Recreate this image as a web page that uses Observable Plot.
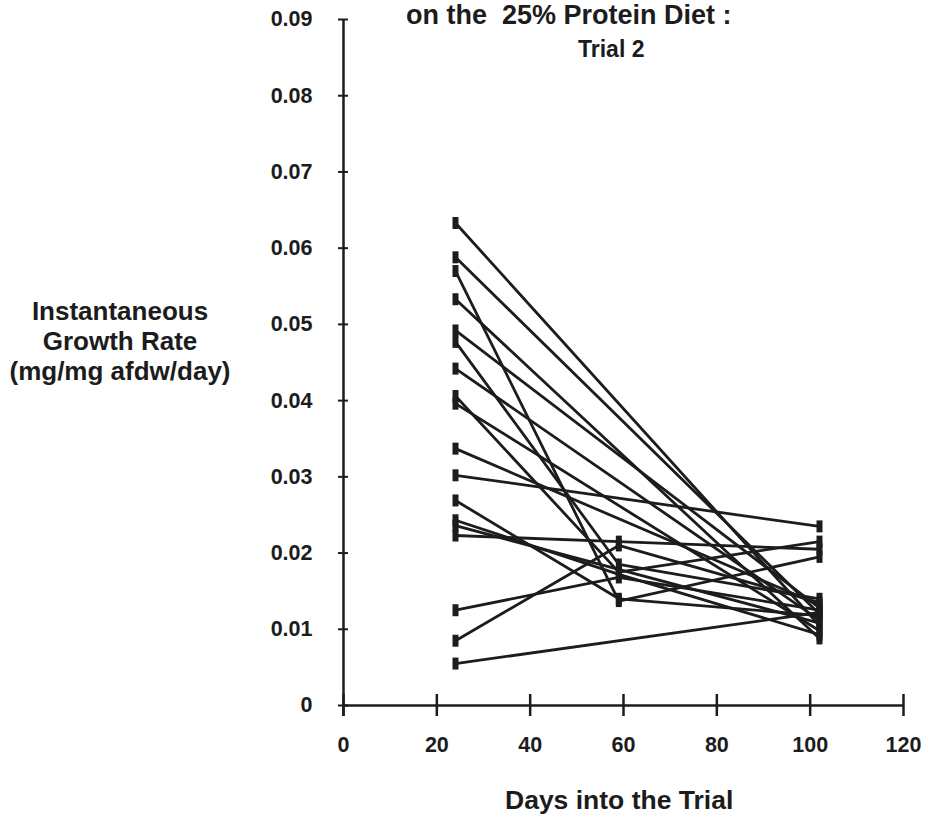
<!DOCTYPE html>
<html>
<head>
<meta charset="utf-8">
<script src="https://cdn.jsdelivr.net/npm/d3@7"></script>
<script src="https://cdn.jsdelivr.net/npm/@observablehq/plot@0.6"></script>
<style>
  body { margin: 0; background: #fff; }
  #wrap { position: relative; width: 929px; height: 822px; font-family: "Liberation Sans", Arial, Helvetica, sans-serif; font-weight: bold; color: #1c1c1c; }
  #wrap svg { position: absolute; left: 0; top: 0; overflow: visible; }
  .t { position: absolute; white-space: nowrap; line-height: 1; }
  #title { left: 406px; top: 2px; font-size: 27px; }
  #sub { left: 578px; top: 38px; font-size: 23px; }
  #ylab { left: 0px; top: 296px; width: 240px; text-align: center; font-size: 26px; line-height: 30px; }
  #xlab { left: 505px; top: 787px; font-size: 26.5px; }
</style>
</head>
<body>
<div id="wrap">
  <div class="t" id="title">on the&nbsp; 25% Protein Diet :</div>
  <div class="t" id="sub">Trial 2</div>
  <div class="t" id="ylab">Instantaneous<br>Growth Rate<br>(mg/mg afdw/day)</div>
  <div class="t" id="xlab">Days into the Trial</div>
</div>
<script>
// Sampling days
const days = [24, 59, 102];

// Growth rate of each animal at each sampling day (null = not measured)
const day24  = [0.0633, 0.0588, 0.0570, 0.0533, 0.0492, 0.0477, 0.0442, 0.0406, 0.0396,
                0.0337, 0.0302, 0.0269, 0.0243, 0.0236, 0.0223, 0.0125, 0.0085, 0.0055];
const day59  = [null,   null,   0.0137, null,   null,   0.0185, null,   0.0175, null,
                null,   null,   0.0140, 0.0172, null,   0.0215, 0.0168, 0.0210, null];
const day102 = [0.0105, 0.0120, 0.0195, 0.0088, 0.0128, 0.0140, 0.0112, 0.0215, 0.0098,
                0.0132, 0.0235, 0.0118, 0.0093, 0.0108, 0.0205, 0.0125, 0.0135, 0.0122];

// Axis ticks
const xTicks = [0, 20, 40, 60, 80, 100, 120];
const yTicks = [0, 0.01, 0.02, 0.03, 0.04, 0.05, 0.06, 0.07, 0.08, 0.09];

const series = [day24, day59, day102];
const rows = [];
day24.forEach((_, id) => {
  series.forEach((vals, j) => {
    if (vals[id] != null) rows.push({id, day: days[j], rate: vals[id]});
  });
});

// Small upright bar used as the point marker
const barSymbol = {
  draw(ctx) { ctx.rect(-3, -6, 6, 12); }
};

const ink = "#1c1c1c";

const chart = Plot.plot({
  width: 929,
  height: 822,
  marginLeft: 343,
  marginRight: 26,
  marginTop: 19,
  marginBottom: 117,
  style: {fontFamily: "'Liberation Sans', Arial, Helvetica, sans-serif", fontWeight: "bold", fontSize: "21.5px", color: ink, background: "transparent"},
  x: {domain: [0, 120]},
  y: {domain: [0, 0.09]},
  marks: [
    Plot.axisY({ticks: yTicks, tickSize: 5, tickPadding: 26, label: null, stroke: ink, strokeWidth: 2,
                tickFormat: d => d === 0 ? "0" : d.toFixed(2)}),
    Plot.axisY({ticks: yTicks, tickSize: 5, dx: 5, text: null, label: null, stroke: ink, strokeWidth: 2}),
    Plot.axisX({ticks: xTicks, tickSize: 11, tickPadding: 20, label: null, stroke: ink, strokeWidth: 2.5}),
    Plot.axisX({ticks: xTicks, tickSize: 11, dy: -11, text: null, label: null, stroke: ink, strokeWidth: 2.5}),
    Plot.ruleX([0], {stroke: ink, strokeWidth: 2.5, insetBottom: -11}),
    Plot.ruleY([0], {stroke: ink, strokeWidth: 2.5}),
    Plot.line(rows, {x: "day", y: "rate", z: "id", stroke: ink, strokeWidth: 2.8}),
    Plot.dot(rows, {x: "day", y: "rate", symbol: barSymbol, fill: ink, stroke: "none"})
  ]
});

document.getElementById("wrap").prepend(chart);
</script>
</body>
</html>
